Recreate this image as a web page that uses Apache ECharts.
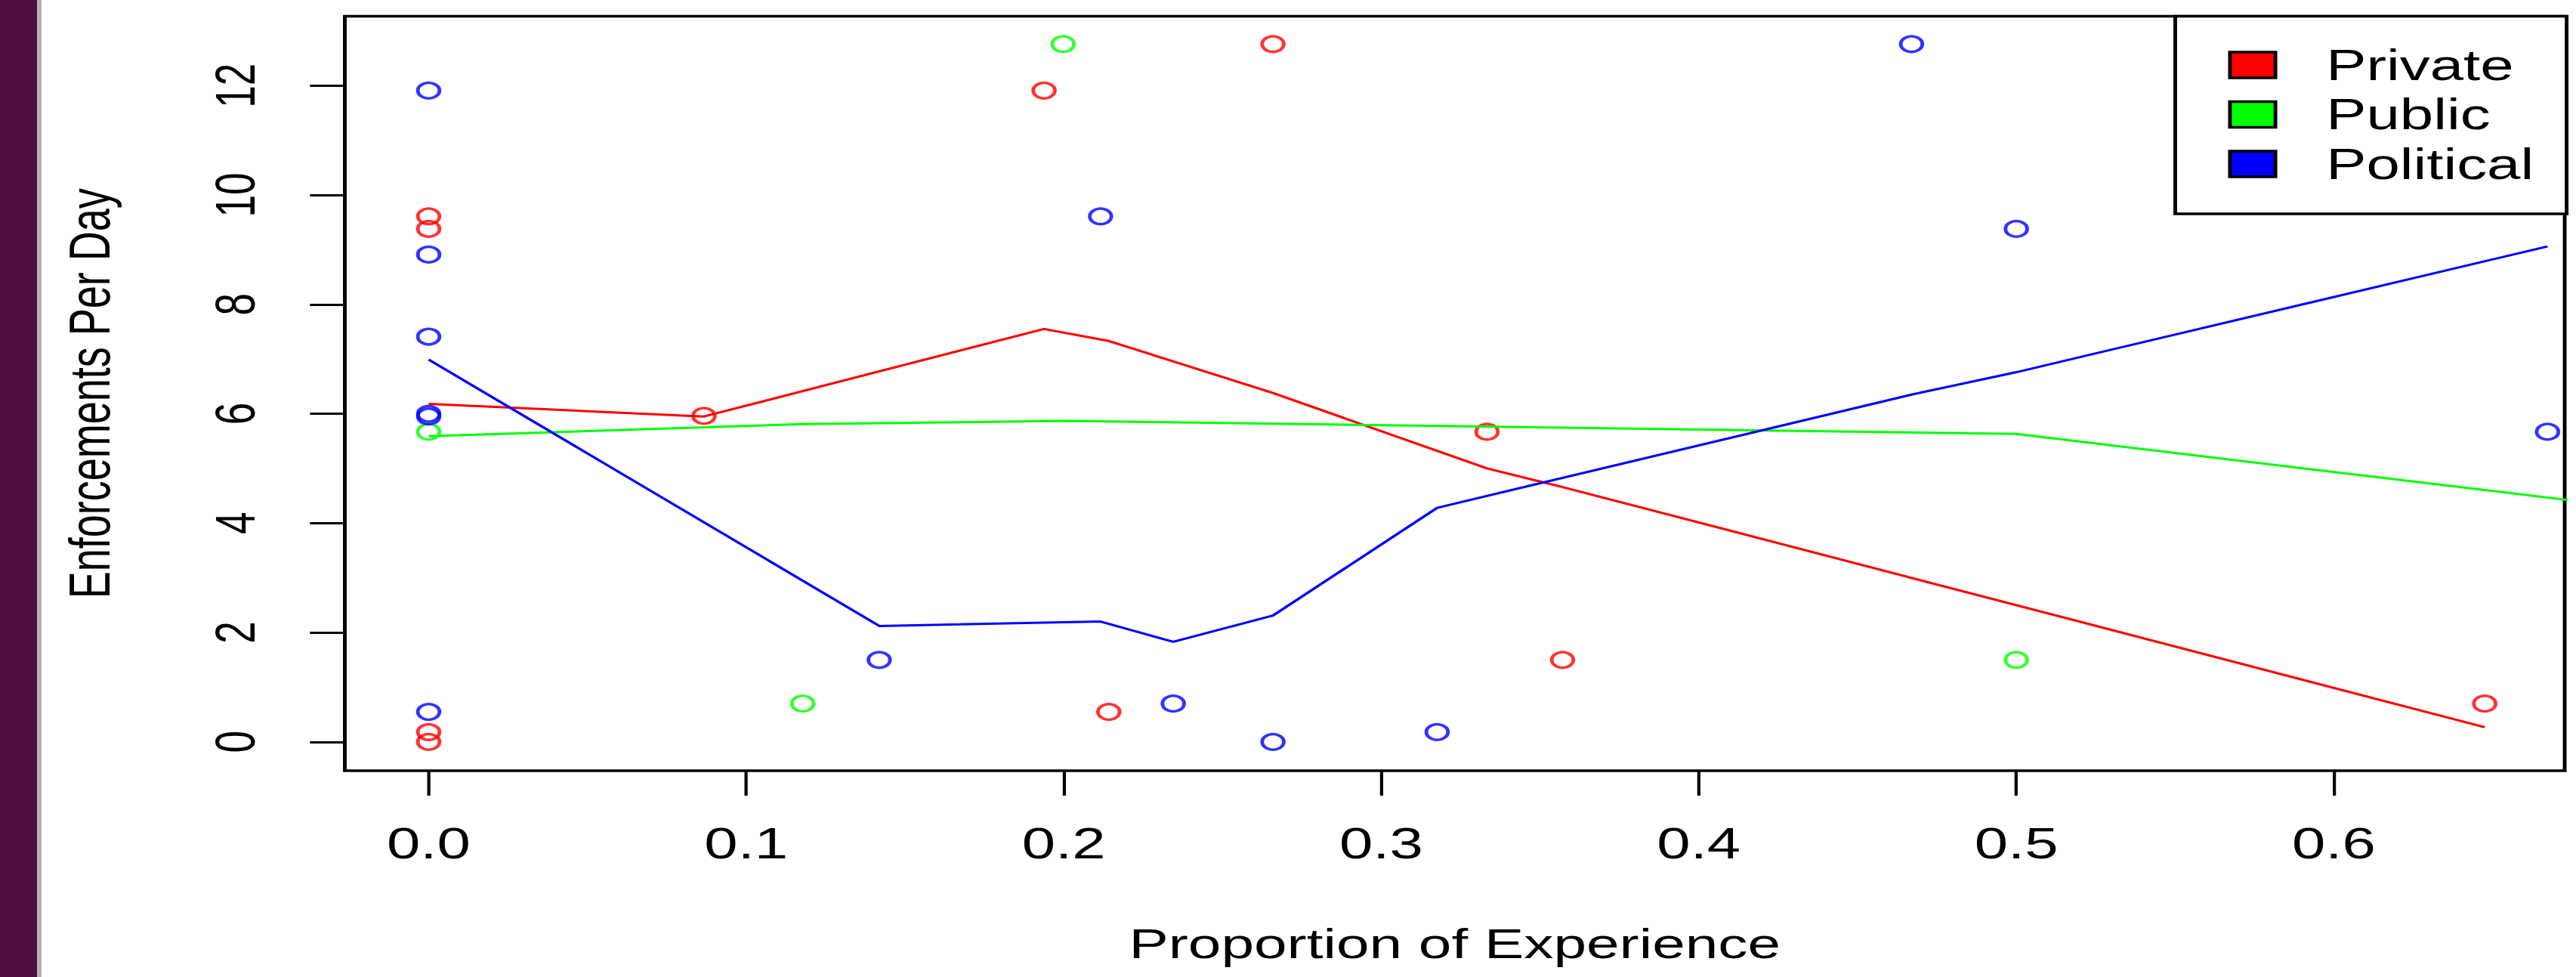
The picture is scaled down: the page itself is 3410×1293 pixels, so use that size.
<!DOCTYPE html>
<html>
<head>
<meta charset="utf-8">
<title>Enforcements Per Day</title>
<script src="https://cdn.jsdelivr.net/npm/echarts@6.0.0/dist/echarts.min.js"></script>
<style>
  html, body { margin: 0; padding: 0; background: #fff; overflow: hidden; }
  #edge { position: absolute; left: 0; top: 0; width: 49px; height: 1293px; background: #4f0d3e; border-right: 6px solid #b4b4b4; z-index: 2; }
  /* the source plot is stretched sideways (~1.4x): draw it narrow, then scale it out */
  #chart { position: absolute; left: 0; top: 0; width: 2436px; height: 1293px; transform: scaleX(1.39984); transform-origin: 0 0; }
</style>
</head>
<body>
<div id="edge"></div>
<div id="chart"></div>
<script>
const seriesNames = ['Private', 'Public', 'Political'];
const seriesColors = ['#ff0000', '#00ff00', '#0000ff'];

// observed points [proportion, enforcements per day]
const privatePoints = [[0, 9.61], [0, 9.38], [0, 0.18], [0, 0], [0.0867, 5.96], [0.1938, 11.91], [0.2142, 0.55],
  [0.2659, 12.76], [0.3333, 5.67], [0.3571, 1.5], [0.6475, 0.7]];
const publicPoints = [[0, 5.67], [0.1178, 0.7], [0.1998, 12.76], [0.5, 1.5]];
const politicalPoints = [[0, 11.91], [0, 8.91], [0, 7.41], [0, 6.0], [0, 5.95], [0, 0.55], [0.1419, 1.5],
  [0.2116, 9.61], [0.2345, 0.7], [0.2659, 0], [0.3176, 0.18], [0.467, 12.76], [0.5, 9.38], [0.6673, 5.67]];

// smoothed (loess) lines
const privateFit = [[0, 6.18], [0.0867, 5.95], [0.1938, 7.55], [0.2142, 7.33], [0.2659, 6.38], [0.3333, 5.0],
  [0.3571, 4.66], [0.6475, 0.27]];
const publicFit = [[0, 5.59], [0.1178, 5.81], [0.1998, 5.87], [0.5, 5.63], [0.70, 4.24]];
const politicalFit = [[0, 6.99], [0.1419, 2.12], [0.2116, 2.2], [0.2345, 1.83], [0.2659, 2.31], [0.3176, 4.28],
  [0.467, 6.35], [0.5, 6.76], [0.6673, 9.06]];

const xTicks = [0, 0.1, 0.2, 0.3, 0.4, 0.5, 0.6];
const yTicks = [0, 2, 4, 6, 8, 10, 12];

const font = 'Liberation Sans, Arial, Helvetica, sans-serif';

let myChart;

function showChart() {
  myChart = echarts.init(document.getElementById('chart'), null, { renderer: 'svg' });

  const pointSets = [privatePoints, publicPoints, politicalPoints];
  const fitSets = [privateFit, publicFit, politicalFit];

  const series = [];
  seriesNames.forEach((name, i) => {
    series.push({
      name: name,
      type: 'scatter',
      symbol: 'circle',
      symbolSize: 20.5,
      itemStyle: {
        color: 'rgba(0,0,0,0)',
        borderColor: seriesColors[i],
        borderWidth: 3.5,
      },
      z: 2,
      data: pointSets[i],
    });
  });
  seriesNames.forEach((name, i) => {
    series.push({
      name: name,
      type: 'line',
      symbol: 'none',
      lineStyle: { color: seriesColors[i], width: 3 },
      itemStyle: { color: seriesColors[i] },
      z: 3,
      data: fitSets[i],
    });
  });

  const option = {
    animation: false,
    backgroundColor: '#fff',
    grid: {
      show: true,
      left: 326.1,
      right: 10.7,
      top: 21.5,
      bottom: 273,
      borderColor: '#000',
      borderWidth: 3.5,
      backgroundColor: 'transparent',
    },
    xAxis: {
      type: 'value',
      min: -0.0264,
      max: 0.6727,
      name: 'Proportion of Experience',
      nameLocation: 'middle',
      nameGap: 200,
      nameTextStyle: { fontSize: 56, fontFamily: font, color: '#000' },
      axisLine: { show: false, onZero: false },
      splitLine: { show: false },
      axisTick: {
        customValues: xTicks,
        inside: false,
        length: 33,
        lineStyle: { color: '#000', width: 3 },
      },
      axisLabel: {
        customValues: xTicks,
        formatter: (v) => v.toFixed(1),
        margin: 68,
        fontSize: 57,
        fontFamily: font,
        color: '#000',
      },
    },
    yAxis: {
      type: 'value',
      min: -0.527,
      max: 13.268,
      name: 'Enforcements Per Day',
      nameLocation: 'middle',
      nameGap: 214,
      nameTextStyle: { fontSize: 54, fontFamily: font, color: '#000' },
      axisLine: { show: false, onZero: false },
      splitLine: { show: false },
      axisTick: {
        customValues: yTicks,
        inside: false,
        length: 33,
        lineStyle: { color: '#000', width: 3 },
      },
      axisLabel: {
        customValues: yTicks,
        rotate: 90,
        margin: 77,
        fontSize: 53,
        fontFamily: font,
        color: '#000',
      },
    },
    legend: {
      orient: 'vertical',
      left: 2057,
      top: 21.5,
      padding: [36, 31, 37.5, 50],
      backgroundColor: '#fff',
      borderColor: '#000',
      borderWidth: 3.5,
      borderRadius: 0,
      icon: 'rect',
      itemWidth: 43,
      itemHeight: 34,
      itemGap: 8.5,
      selectedMode: false,
      itemStyle: { borderColor: '#000', borderWidth: 3.5, opacity: 1 },
      textStyle: { fontSize: 57, fontFamily: font, color: '#000', padding: [0, 0, 0, 43] },
      data: seriesNames.map((n, i) => ({ name: n, itemStyle: { color: seriesColors[i], opacity: 1 } })),
    },
    series: series,
  };
  myChart.setOption(option);
}

showChart();
</script>
</body>
</html>
